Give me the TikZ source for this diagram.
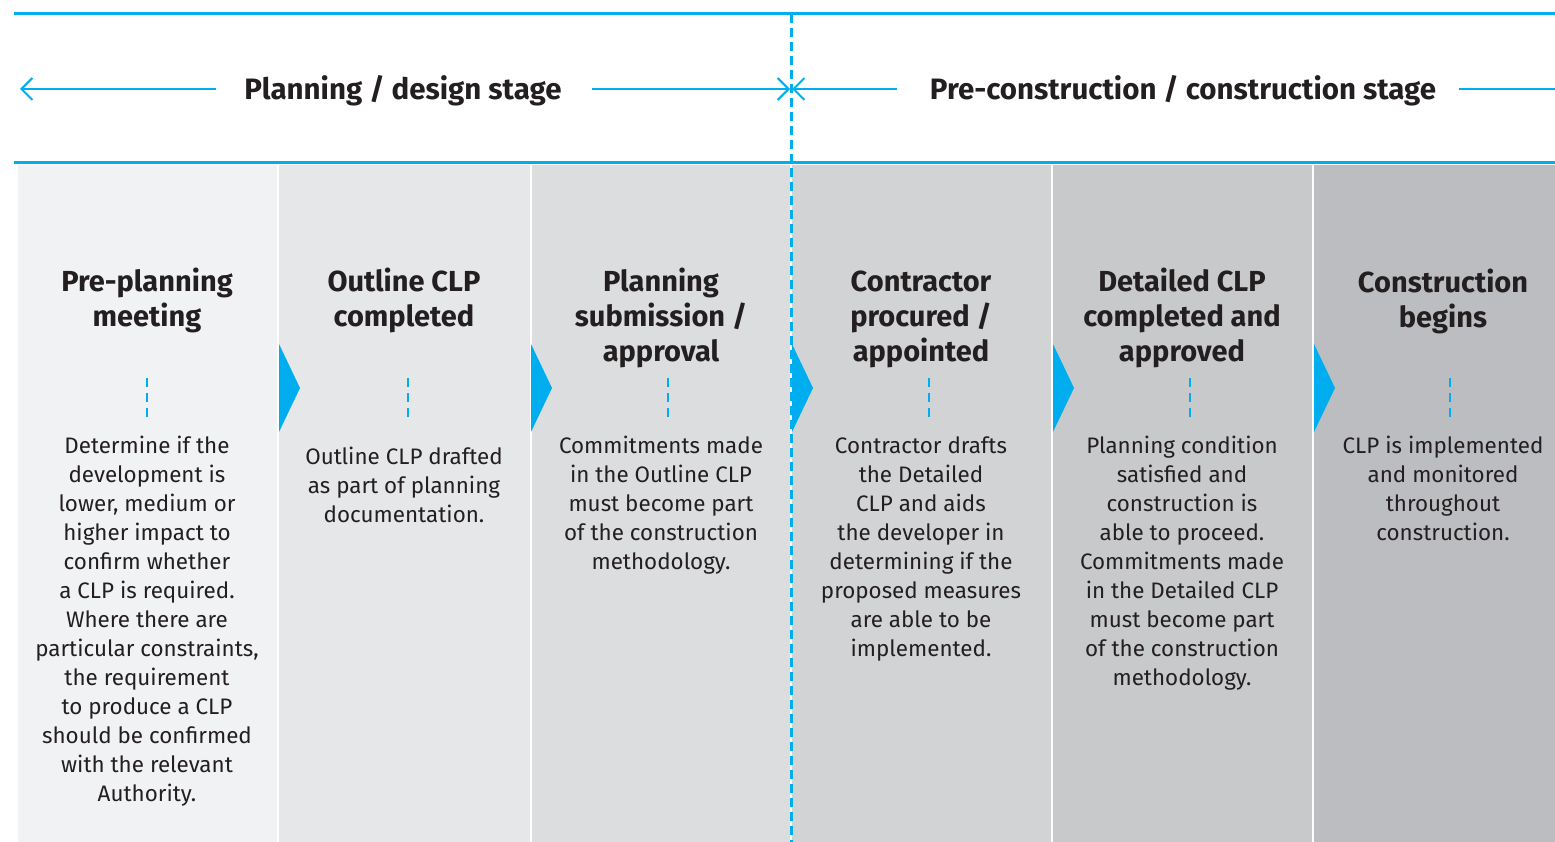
\documentclass[tikz,border=0pt]{standalone}
\usepackage{fontspec}
\setmainfont{Fira Sans}
\usetikzlibrary{arrows.meta}
\definecolor{clpblue}{HTML}{00AEEF}
\definecolor{textdark}{HTML}{231F20}
\definecolor{shadeA}{HTML}{F1F2F4}
\definecolor{shadeB}{HTML}{E6E7E9}
\definecolor{shadeC}{HTML}{DCDDDF}
\definecolor{shadeD}{HTML}{D2D3D5}
\definecolor{shadeE}{HTML}{C8C9CB}
\definecolor{shadeF}{HTML}{BCBDC0}
\tikzset{
  stagelabel/.style={font=\fontsize{29.5}{35}\selectfont\bfseries, text=textdark, inner sep=0pt},
  heading/.style={anchor=north, align=center, inner sep=0pt, font=\fontsize{29}{35}\selectfont\bfseries, text=textdark},
  bodytext/.style={anchor=north, align=center, inner sep=0pt, font=\fontsize{22.4}{29}\selectfont, text=textdark},
  rule/.style={clpblue, line width=3pt},
  stagearrow/.style={clpblue, line width=2pt, -{Straight Barb[length=11pt,width=22pt,line width=2pt]}},
  divider/.style={clpblue, line width=3pt, dash pattern=on 9pt off 5pt},
  tick/.style={clpblue, line width=2.5pt, dash pattern=on 9pt off 6pt}
}
\begin{document}
\begin{tikzpicture}[x=1pt,y=-1pt]
    \useasboundingbox (0,0) rectangle (1555,842);
    \coordinate (RuleTopL) at (14,14);
    \coordinate (RuleTopR) at (1555,14);
    \coordinate (RuleBotL) at (14,163);
    \coordinate (RuleBotR) at (1555,163);
    \coordinate (DivTop)   at (791,14);
    \coordinate (DivBot)   at (791,842);
    % shaded stage columns
    \fill [shadeA] (18,165)   rectangle (277,842);
    \fill [shadeB] (279,165)  rectangle (530,842);
    \fill [shadeC] (532,165)  rectangle (790,842);
    \fill [shadeD] (792,165)  rectangle (1051,842);
    \fill [shadeE] (1053,165) rectangle (1312,842);
    \fill [shadeF] (1314,165) rectangle (1555,842);
    % chevrons between columns
    \foreach \lx in {279,531,792,1053,1314}
      \fill [clpblue] (\lx,344) -- (\lx+21,388) -- (\lx,432) -- cycle;
    \draw [rule] (RuleTopL) -- (RuleTopR);% top rule
    \draw [rule] (RuleBotL) -- (RuleBotR);% rule under stage labels
    % stage labels and arrows
    \node [stagelabel] (plan)  at (403,91)  {Planning / design stage};
    \node [stagelabel] (build) at (1183,91) {Pre-construction / construction stage};
    \coordinate (PlanL)  at (216,89);
    \coordinate (PlanLE) at (20,89);
    \coordinate (PlanR)  at (592,89);
    \coordinate (PlanRE) at (790,89);
    \coordinate (BuildL)  at (897,89);
    \coordinate (BuildLE) at (792,89);
    \coordinate (BuildR)  at (1459,89);
    \coordinate (BuildRE) at (1555,89);
    \draw [stagearrow] (PlanL) -- (PlanLE);
    \draw [stagearrow] (PlanR) -- (PlanRE);
    \draw [stagearrow] (BuildL) -- (BuildLE);
    \draw [clpblue, line width=2pt] (BuildR) -- (BuildRE);
    \draw [divider] (DivTop) -- (DivBot);% stage divider
    % step headings
    \node [heading] (head1) at (147,268)  {Pre-planning\\meeting};
    \node [heading] (head2) at (404,268)  {Outline CLP\\completed};
    \node [heading] (head3) at (661,268)  {Planning\\submission /\\approval};
    \node [heading] (head4) at (921,271)  {Contractor\\procured /\\appointed};
    \node [heading] (head5) at (1182,268) {Detailed CLP\\completed and\\approved};
    \node [heading] (head6) at (1443,269) {Construction\\begins};
    % short dashed ticks
    \foreach \tx in {147,408,668,929,1190,1450}
      \draw [tick] (\tx,378) -- (\tx,417);
    % step descriptions
    \node [bodytext] (body1) at (147,436) {Determine if the\\development is\\lower, medium or\\higher impact to\\confirm whether\\a CLP is required.\\Where there are\\particular constraints,\\the requirement\\to produce a CLP\\should be confirmed\\with the relevant\\Authority.};
    \node [bodytext] (body2) at (404,447) {Outline CLP drafted\\as part of planning\\documentation.};
    \node [bodytext] (body3) at (661,436) {Commitments made\\in the Outline CLP\\must become part\\of the construction\\methodology.};
    \node [bodytext] (body4) at (921,436) {Contractor drafts\\the Detailed\\CLP and aids\\the developer in\\determining if the\\proposed measures\\are able to be\\implemented.};
    \node [bodytext] (body5) at (1182,436) {Planning condition\\satisfied and\\construction is\\able to proceed.\\Commitments made\\in the Detailed CLP\\must become part\\of the construction\\methodology.};
    \node [bodytext] (body6) at (1443,436) {CLP is implemented\\and monitored\\throughout\\construction.};
  \end{tikzpicture}
\end{document}
